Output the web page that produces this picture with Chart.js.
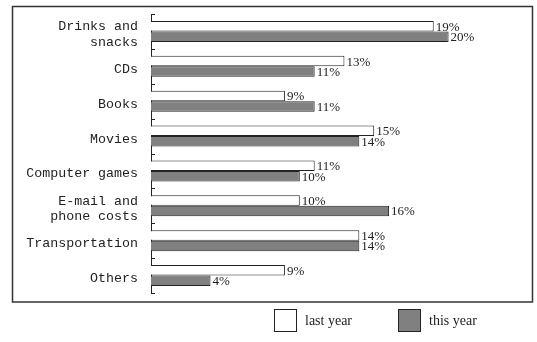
<!DOCTYPE html>
<html>
<head>
<meta charset="utf-8">
<script src="https://cdn.jsdelivr.net/npm/chart.js@4/dist/chart.umd.min.js"></script>
<style>
    html, body { margin: 0; padding: 0; background: #fff; }
    #wrap { width: 537px; height: 342px; }
</style>
</head>
<body>
<div id="wrap"><canvas id="spendChart" width="537" height="342"></canvas></div>
<script>
const categories = [
    ['Drinks and', 'snacks'],
    'CDs',
    'Books',
    'Movies',
    'Computer games',
    ['E-mail and', 'phone costs'],
    'Transportation',
    'Others'
];
const lastYear = [19, 13, 9, 15, 11, 10, 14, 9];
const thisYear = [20, 11, 11, 14, 10, 16, 14, 4];
const seriesNames = ['last year', 'this year'];

const ink = '#222';
const serif = "'Liberation Serif', 'Times New Roman', serif";

// frame round the plot, inward ticks, value labels and the legend
const decorations = {
    id: 'decorations',
    beforeDraw(chart) {
        const ctx = chart.ctx;
        ctx.save();
        ctx.strokeStyle = '#333';
        ctx.lineWidth = 1.5;
        ctx.strokeRect(12.5, 6.5, 520, 295.5);
        ctx.restore();
    },
    afterDatasetsDraw(chart) {
        const ctx = chart.ctx;
        const y = chart.scales.y;
        const n = chart.data.labels.length;
        ctx.save();
        ctx.strokeStyle = ink;
        ctx.lineWidth = 1;
        for (let i = 0; i <= n; i++) {
            const py = Math.round(y.top + i * (y.bottom - y.top) / n) + 0.5;
            ctx.beginPath();
            ctx.moveTo(chart.chartArea.left, py);
            ctx.lineTo(chart.chartArea.left + 4, py);
            ctx.stroke();
        }
        ctx.font = `13px ${serif}`;
        ctx.fillStyle = ink;
        ctx.textBaseline = 'middle';
        chart.data.datasets.forEach((ds, di) => {
            chart.getDatasetMeta(di).data.forEach((bar, i) => {
                ctx.fillText(ds.data[i] + '%', bar.x + 2, bar.y + 1);
            });
        });
        ctx.restore();
    },
    afterDraw(chart) {
        const ctx = chart.ctx;
        const boxX = [274, 398];
        ctx.save();
        ctx.font = `14px ${serif}`;
        ctx.textBaseline = 'middle';
        chart.data.datasets.forEach((ds, di) => {
            const x = boxX[di];
            ctx.fillStyle = ds.backgroundColor;
            ctx.fillRect(x, 309, 22, 22);
            ctx.strokeStyle = ink;
            ctx.lineWidth = 1;
            ctx.strokeRect(x + 0.5, 309.5, 22, 22);
            ctx.fillStyle = ink;
            ctx.fillText(ds.label, x + 31, 321);
        });
        ctx.restore();
    }
};

new Chart(document.getElementById('spendChart'), {
    type: 'bar',
    data: {
        labels: categories,
        datasets: [
            {
                label: seriesNames[0],
                data: lastYear,
                backgroundColor: '#ffffff',
                borderColor: ink,
                borderWidth: 1,
                categoryPercentage: 0.6,
                barPercentage: 1
            },
            {
                label: seriesNames[1],
                data: thisYear,
                backgroundColor: '#808080',
                borderColor: ink,
                borderWidth: 1,
                categoryPercentage: 0.6,
                barPercentage: 1
            }
        ]
    },
    options: {
        indexAxis: 'y',
        responsive: false,
        animation: false,
        layout: { padding: { left: 0, right: 14, top: 14, bottom: 49 } },
        plugins: {
            legend: { display: false },
            tooltip: { enabled: false }
        },
        scales: {
            x: { display: false, min: 0, max: 25 },
            y: {
                grid: { display: false, drawTicks: false },
                border: { display: true, color: ink, width: 1 },
                ticks: {
                    color: ink,
                    padding: 13,
                    labelOffset: 3,
                    font: { family: "'Liberation Mono', 'Courier New', monospace", size: 13.3, lineHeight: 1.15 }
                },
                afterFit(scale) {
                    scale.width = 151;
                    scale.paddingTop = 0;
                    scale.paddingBottom = 0;
                }
            }
        }
    },
    plugins: [decorations]
});
</script>
</body>
</html>
